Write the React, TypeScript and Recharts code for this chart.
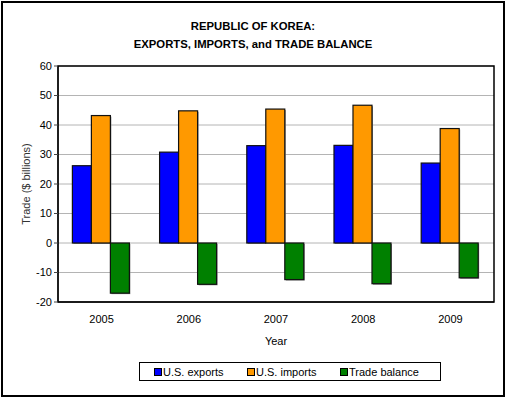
import React from 'react';
import { BarChart, Bar, XAxis, YAxis, CartesianGrid, Legend, ReferenceArea } from 'recharts';

const years = ['2005', '2006', '2007', '2008', '2009'];
const usExports = [26.2, 30.8, 33.0, 33.1, 27.1];
const usImports = [43.2, 44.8, 45.4, 46.7, 38.8];
const tradeBalance = [-17.0, -14.0, -12.4, -13.8, -11.8];
const yTicks = [-20, -10, 0, 10, 20, 30, 40, 50, 60];

const SERIES = [
    { key: 'exports', name: 'U.S. exports', color: '#0000FF' },
    { key: 'imports', name: 'U.S. imports', color: '#FF9900' },
    { key: 'balance', name: 'Trade balance', color: '#008000' },
];

const data = years.map((year, i) => ({
    year,
    exports: usExports[i],
    imports: usImports[i],
    balance: tradeBalance[i],
}));

const FONT = '"Liberation Sans", Arial, sans-serif';

// bar with a thin grey edge, like the old spreadsheet style
const ShadowBar = (props: any) => {
    const { x, y, width, height, fill } = props;
    const top = height < 0 ? y + height : y;
    const h = Math.abs(height);
    return (
        <g>
            <rect x={x + 1} y={top + 1} width={width} height={h} fill="#8c8c8c" />
            <rect x={x} y={top} width={width} height={h} fill={fill} stroke="#111" strokeWidth={1.2} />
        </g>
    );
};

const LegendBox = () => (
    <div
        style={{
            width: 300,
            height: 17,
            border: '1px solid #000',
            background: '#fff',
            display: 'flex',
            alignItems: 'center',
            fontFamily: FONT,
            fontSize: 11,
            color: '#000',
        }}
    >
        {SERIES.map((s, i) => (
            <div key={s.key} style={{ display: 'flex', alignItems: 'center', position: 'absolute', left: 15 + i * 93 }}>
                <span style={{ display: 'inline-block', width: 6, height: 6, background: s.color, border: '1px solid #000', marginRight: 1 }} />
                <span>{s.name}</span>
            </div>
        ))}
    </div>
);

export default function App() {
    return (
        <div style={{ position: 'absolute', left: 0, top: 0, width: 506, height: 398, background: '#fff', fontFamily: FONT }}>
            <div
                style={{
                    position: 'absolute',
                    top: 17,
                    left: 0,
                    width: 506,
                    textAlign: 'center',
                    fontWeight: 'bold',
                    fontSize: 11.3,
                    lineHeight: '18px',
                    color: '#000',
                }}
            >
                REPUBLIC OF KOREA:
                <br />
                EXPORTS, IMPORTS, and TRADE BALANCE
            </div>
            <BarChart
                width={506}
                height={398}
                data={data}
                margin={{ top: 66, right: 12, bottom: 52, left: 0 }}
                barCategoryGap="16.5%"
                barGap={0}
                style={{ position: 'absolute', left: 0, top: 0 }}
            >
                <CartesianGrid vertical={false} stroke="#b4b4b4" />
                <XAxis
                    dataKey="year"
                    height={44}
                    tickLine={false}
                    tickSize={0}
                    tickMargin={13}
                    axisLine={{ stroke: '#000' }}
                    tick={{ fontSize: 11, fill: '#000', fontFamily: FONT }}
                    label={{ value: 'Year', position: 'insideBottom', offset: 1, fontSize: 11, fill: '#000', fontFamily: FONT }}
                />
                <YAxis
                    width={58}
                    domain={[-20, 60]}
                    ticks={yTicks}
                    interval={0}
                    tickLine={{ stroke: '#444' }}
                    tickSize={4}
                    tickMargin={2}
                    axisLine={{ stroke: '#000' }}
                    tick={{ fontSize: 11, fill: '#000', fontFamily: FONT }}
                    label={{
                        value: 'Trade ($ billions)',
                        angle: -90,
                        position: 'insideLeft',
                        offset: 26,
                        fontSize: 11,
                        fill: '#333',
                        fontFamily: FONT,
                        style: { textAnchor: 'middle' },
                    }}
                />
                <ReferenceArea y1={-20} y2={60} fill="none" stroke="#000" strokeWidth={1.5} ifOverflow="visible" />
                {SERIES.map((s) => (
                    <Bar
                        key={s.key}
                        dataKey={s.key}
                        name={s.name}
                        fill={s.color}
                        shape={<ShadowBar />}
                        isAnimationActive={false}
                    />
                ))}
                <Legend
                    layout="horizontal"
                    verticalAlign="middle"
                    align="center"
                    content={<LegendBox />}
                    wrapperStyle={{ position: 'absolute', left: 139, top: 362, width: 302 }}
                />
            </BarChart>
            <div
                style={{
                    position: 'absolute',
                    left: 1,
                    top: 1,
                    width: 504,
                    height: 396,
                    border: '2px solid #000',
                    boxSizing: 'border-box',
                    pointerEvents: 'none',
                }}
            />
        </div>
    );
}
